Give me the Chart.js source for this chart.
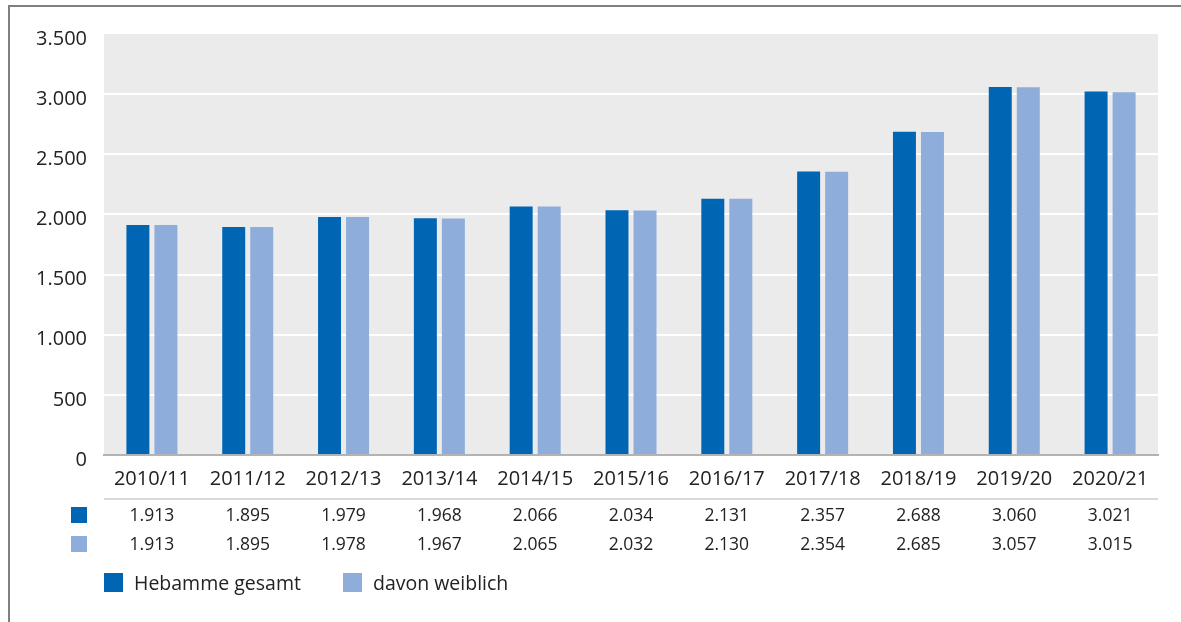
<!DOCTYPE html>
<html>
<head>
<meta charset="utf-8">
<script src="https://cdn.jsdelivr.net/npm/chart.js@4"></script>
<style>
  html, body { margin: 0; padding: 0; background: #fff; }
  #wrap { width: 1181px; height: 622px; }
</style>
</head>
<body>
<div id="wrap"><canvas id="chart" width="1181" height="622"></canvas></div>
<script>
// Data
const years = ['2010/11', '2011/12', '2012/13', '2013/14', '2014/15', '2015/16',
               '2016/17', '2017/18', '2018/19', '2019/20', '2020/21'];
const gesamt = [1913, 1895, 1979, 1968, 2066, 2034, 2131, 2357, 2688, 3060, 3021];
const weiblich = [1913, 1895, 1978, 1967, 2065, 2032, 2130, 2354, 2685, 3057, 3015];
const seriesNames = ['Hebamme gesamt', 'davon weiblich'];

const darkBlue = '#0066b3';
const lightBlue = '#8eaddb';
const fontFamily = '"Open Sans", "Noto Sans", sans-serif';

// German thousands separator
function fmt(v) {
    return String(v).replace(/\B(?=(\d{3})+(?!\d))/g, '.');
}

// plot background, frame lines, data table and legend
const tablePlugin = {
    id: 'tablePlugin',
    beforeDraw(chart) {
        const { ctx, chartArea: a } = chart;
        ctx.save();
        ctx.fillStyle = '#ebebeb';
        ctx.fillRect(a.left, a.top, a.right - a.left, a.bottom - a.top);
        // outer frame (top and left only)
        ctx.fillStyle = '#808080';
        ctx.fillRect(8, 5, chart.width - 8, 2);
        ctx.fillRect(8, 5, 2, chart.height - 5);
        ctx.restore();
    },
    afterDraw(chart) {
        const { ctx, chartArea: a } = chart;
        const x = chart.scales.x;
        ctx.save();
        // thin line under the category labels
        ctx.fillStyle = '#d9d9d9';
        ctx.fillRect(a.left, 498, a.right - a.left, 2);

        const rows = [gesamt, weiblich];
        const colors = [darkBlue, lightBlue];
        const rowY = [515, 544];
        ctx.font = '17.5px ' + fontFamily;
        ctx.textBaseline = 'middle';
        rows.forEach((row, r) => {
            ctx.fillStyle = colors[r];
            ctx.fillRect(71, rowY[r] - 8, 16, 16);
            ctx.fillStyle = '#222';
            ctx.textAlign = 'center';
            row.forEach((v, i) => {
                ctx.fillText(fmt(v), x.getPixelForValue(i), rowY[r] + 1);
            });
        });

        // legend
        ctx.font = '19.5px ' + fontFamily;
        ctx.textAlign = 'left';
        let lx = 104;
        seriesNames.forEach((name, i) => {
            ctx.fillStyle = colors[i];
            ctx.fillRect(lx, 573, 19, 19);
            ctx.fillStyle = '#222';
            ctx.fillText(name, lx + 30, 584);
            lx += 239;
        });
        ctx.restore();
    }
};

const ctx = document.getElementById('chart').getContext('2d');

const data = {
    labels: years,
    datasets: [
        { label: seriesNames[0], data: gesamt, backgroundColor: darkBlue },
        { label: seriesNames[1], data: weiblich, backgroundColor: lightBlue }
    ]
};

const config = {
    type: 'bar',
    data: data,
    options: {
        responsive: false,
        animation: false,
        devicePixelRatio: 1,
        categoryPercentage: 0.585,
        barPercentage: 0.82,
        layout: {
            padding: { left: 0, right: 23, top: 34, bottom: 119 }
        },
        plugins: {
            legend: { display: false },
            tooltip: { enabled: false }
        },
        scales: {
            x: {
                grid: { display: true, drawOnChartArea: false, drawTicks: false },
                border: { display: true, color: '#b3b3b3', width: 2 },
                ticks: {
                    color: '#222',
                    padding: 12,
                    font: { family: fontFamily, size: 20 }
                }
            },
            y: {
                min: 0,
                max: 3500,
                afterFit: function(scale) { scale.width = 104; },
                grid: {
                    drawTicks: false,
                    lineWidth: 2,
                    color: function(c) {
                        const v = c.tick ? c.tick.value : null;
                        return (v === 0 || v === 3500) ? 'rgba(0,0,0,0)' : '#ffffff';
                    }
                },
                border: { display: false },
                ticks: {
                    stepSize: 500,
                    color: '#222',
                    padding: 17,
                    labelOffset: 5,
                    font: { family: fontFamily, size: 20 },
                    callback: function(v) { return fmt(v); }
                }
            }
        }
    },
    plugins: [tablePlugin]
};

const hebammenChart = new Chart(ctx, config);
</script>
</body>
</html>
